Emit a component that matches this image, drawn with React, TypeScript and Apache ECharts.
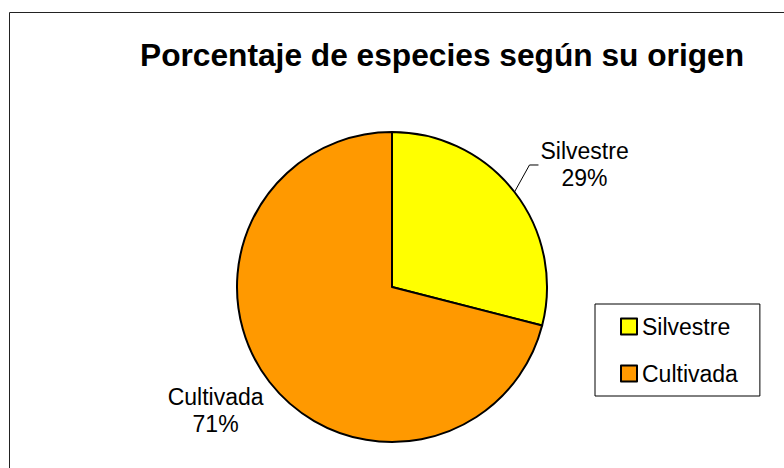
import React, { useEffect, useRef } from 'react';
import * as echarts from 'echarts';

const titleText = 'Porcentaje de especies según su origen';
const categories = ['Silvestre', 'Cultivada'];
const values = [29, 71];
const colors = ['#FFFF00', '#FF9900'];

export default function App() {
  const ref = useRef<HTMLDivElement>(null);
  useEffect(() => {
    const chart = echarts.init(ref.current!, null, { renderer: 'svg' });
    const font = '"Liberation Sans", Arial, Helvetica, sans-serif';
    chart.setOption({
      animation: false,
      backgroundColor: '#ffffff',
      textStyle: { fontFamily: font },
      title: {
        text: titleText,
        left: 140,
        top: 39,
        padding: 0,
        textStyle: { fontFamily: font, fontSize: 31.7, fontWeight: 'bold', color: '#000' },
      },
      legend: {
        orient: 'vertical',
        left: 595,
        top: 304,
        padding: [11, 22, 11, 25],
        borderColor: '#000',
        borderWidth: 1,
        itemWidth: 16,
        itemHeight: 16,
        itemGap: 24,
        icon: 'rect',
        itemStyle: { borderColor: '#000', borderWidth: 2 },
        textStyle: { fontFamily: font, fontSize: 23, color: '#000' },
        data: categories,
      },
      graphic: [
        {
          type: 'rect',
          silent: true,
          z: -10,
          shape: { x: 9.5, y: 12.5, width: 800, height: 500 },
          style: { fill: 'none', stroke: '#222', lineWidth: 1 },
        },
      ],
      series: [
        {
          type: 'pie',
          center: [392, 287],
          radius: 155,
          startAngle: 90,
          clockwise: true,
          itemStyle: { borderColor: '#000', borderWidth: 2 },
          emphasis: { disabled: true },
          label: {
            show: true,
            position: 'outside',
            formatter: '{a|{b}}\n{a|{d}%}',
            rich: {
              a: { fontFamily: font, fontSize: 23, lineHeight: 27, align: 'center', color: '#000' },
            },
          },
          labelLine: { show: true, length: 20, length2: 9, lineStyle: { color: '#000', width: 1 } },
          labelLayout: (p: any) => {
            if (p.dataIndex === 0 && p.labelLinePoints) {
              const x0 = p.labelLinePoints[0][0];
              const y0 = p.labelLinePoints[0][1];
              const p1 = [x0 + 15, y0 - 27];
              const p2 = [p1[0] + 9, p1[1]];
              return { labelLinePoints: [[x0, y0], p1, p2], x: p2[0] + 2, y: p2[1], align: 'left', verticalAlign: 'middle' };
            }
            if (p.dataIndex === 1) {
              return { dy: 28, dx: -1 };
            }
            return {};
          },
          data: categories.map((name, i) => ({
            name,
            value: values[i],
            itemStyle: { color: colors[i] },
            ...(i === 1 ? { labelLine: { show: false, length: 0, length2: 0 } } : {}),
          })),
        },
      ],
    });
    return () => chart.dispose();
  }, []);
  return (
    <div
      ref={ref}
      style={{ position: 'absolute', left: 0, top: 0, width: 784, height: 468 }}
    />
  );
}
